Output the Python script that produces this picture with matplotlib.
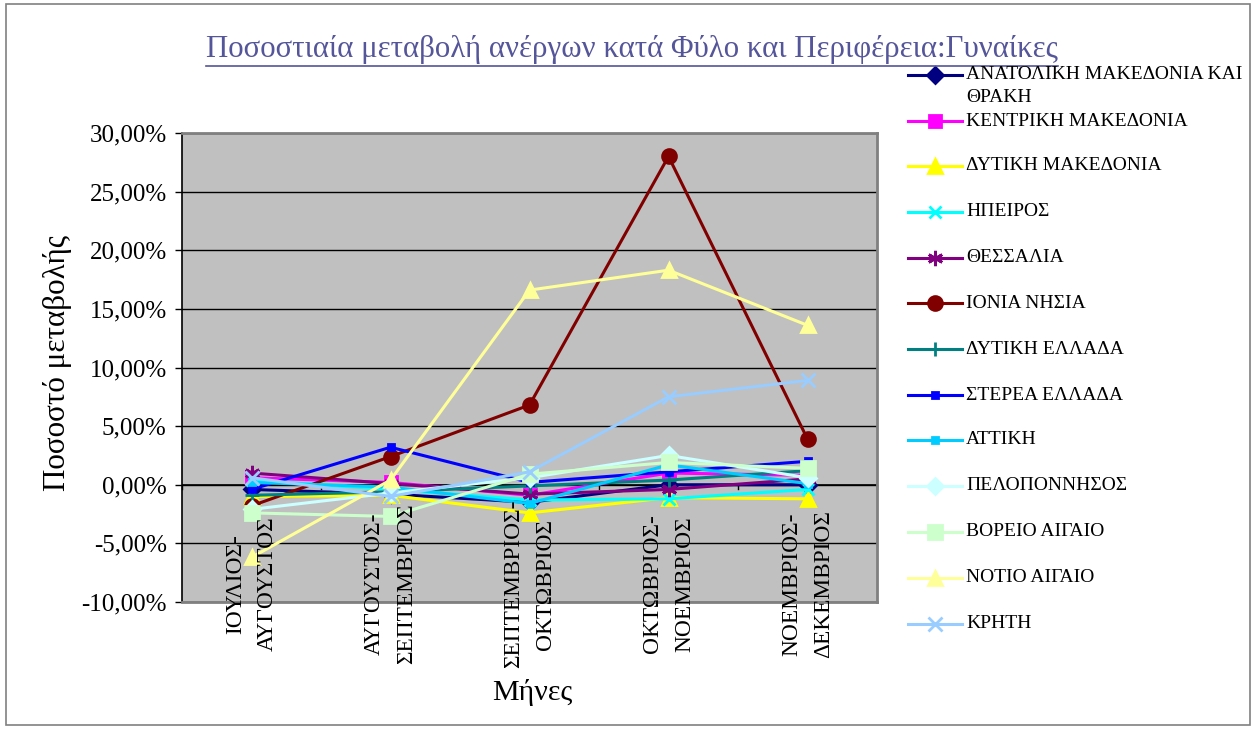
import numpy as np
import matplotlib
matplotlib.use('Agg')
import matplotlib.pyplot as plt
from matplotlib.lines import Line2D
from matplotlib.patches import Rectangle
from matplotlib.ticker import FuncFormatter, MultipleLocator

plt.rcParams['font.family'] = ['Liberation Serif', 'DejaVu Serif']

# περίοδοι (κατηγορίες του άξονα x)
months = ['ΙΟΥΛΙΟΣ-\nΑΥΓΟΥΣΤΟΣ', 'ΑΥΓΟΥΣΤΟΣ-\nΣΕΠΤΕΜΒΡΙΟΣ', 'ΣΕΠΤΕΜΒΡΙΟΣ-\nΟΚΤΩΒΡΙΟΣ',
          'ΟΚΤΩΒΡΙΟΣ-\nΝΟΕΜΒΡΙΟΣ', 'ΝΟΕΜΒΡΙΟΣ-\nΔΕΚΕΜΒΡΙΟΣ']

# ποσοστιαία μεταβολή (%) ανά περιφέρεια
anat_makedonia = [-0.4, -0.8, -1.5, 0.0, 0.0]
kentr_makedonia = [0.6, 0.2, -0.9, 1.0, 0.8]
dyt_makedonia = [-1.0, -0.9, -2.4, -1.1, -1.2]
ipeiros = [0.4, -0.4, -1.3, -1.2, -0.4]
thessalia = [1.0, 0.1, -0.8, -0.4, 0.5]
ionia = [-1.8, 2.4, 6.8, 28.0, 3.9]
dyt_ellada = [-0.9, -0.6, -0.1, 0.4, 1.2]
sterea = [-0.4, 3.2, 0.2, 1.1, 2.0]
attiki = [0.2, -0.2, -1.6, 1.7, 0.1]
peloponnisos = [-2.1, -0.7, 0.6, 2.5, 0.6]
voreio_aigaio = [-2.4, -2.7, 0.9, 1.9, 1.4]
notio_aigaio = [-6.2, 0.4, 16.6, 18.3, 13.6]
kriti = [0.6, -1.0, 1.1, 7.5, 8.9]

series = [
    ('ΑΝΑΤΟΛΙΚΗ ΜΑΚΕΔΟΝΙΑ ΚΑΙ\nΘΡΑΚΗ', anat_makedonia, '#000080', 'D', 8),
    ('ΚΕΝΤΡΙΚΗ ΜΑΚΕΔΟΝΙΑ', kentr_makedonia, '#FF00FF', 's', 8),
    ('ΔΥΤΙΚΗ ΜΑΚΕΔΟΝΙΑ', dyt_makedonia, '#FFFF00', '^', 10),
    ('ΗΠΕΙΡΟΣ', ipeiros, '#00FFFF', 'x', 9),
    ('ΘΕΣΣΑΛΙΑ', thessalia, '#800080', (6, 2, 0), 11),
    ('ΙΟΝΙΑ ΝΗΣΙΑ', ionia, '#800000', 'o', 10),
    ('ΔΥΤΙΚΗ ΕΛΛΑΔΑ', dyt_ellada, '#008080', '+', 10),
    ('ΣΤΕΡΕΑ ΕΛΛΑΔΑ', sterea, '#0000FF', 's', 4),
    ('ΑΤΤΙΚΗ', attiki, '#00CCFF', 's', 5),
    ('ΠΕΛΟΠΟΝΝΗΣΟΣ', peloponnisos, '#CCFFFF', 'D', 8),
    ('ΒΟΡΕΙΟ ΑΙΓΑΙΟ', voreio_aigaio, '#CCFFCC', 's', 10),
    ('ΝΟΤΙΟ ΑΙΓΑΙΟ', notio_aigaio, '#FFFF99', '^', 10),
    ('ΚΡΗΤΗ', kriti, '#99CCFF', 'x', 10),
]

W, H = 1256, 729
fig = plt.figure(figsize=(W / 100, H / 100), dpi=100)
fig.patch.set_facecolor('white')

# περίγραμμα γραφήματος
fig.add_artist(Rectangle((6 / W, 4 / H), 1244 / W, 721 / H, transform=fig.transFigure,
                         fill=False, edgecolor='#808080', linewidth=1.2))

ax = fig.add_axes([182 / W, 1 - 602 / H, 695 / W, 469 / H])
ax.set_facecolor('#C0C0C0')

x = np.arange(len(months))
for name, vals, col, mk, ms in series:
    ax.plot(x, vals, color=col, linewidth=2.2, marker=mk, markersize=ms,
            markerfacecolor=col, markeredgecolor=col, markeredgewidth=2, zorder=3)

ax.set_xlim(-0.5, len(months) - 0.5)
ax.set_ylim(-10, 30)
ax.yaxis.set_major_locator(MultipleLocator(5))
ax.yaxis.set_major_formatter(FuncFormatter(lambda v, p: f'{v:.2f}%'.replace('.', ',')))
ax.grid(axis='y', color='black', linewidth=1.0, zorder=1)
ax.set_axisbelow(True)
ax.tick_params(axis='y', labelsize=18, length=5, width=1, direction='out', pad=6)

# άξονας κατηγοριών στο 0
ax.axhline(0, color='black', linewidth=1.2, zorder=2)
ax.set_xticks([])
for b in np.arange(-0.5, len(months), 1.0):
    ax.plot([b, b], [0, -0.4], color='black', linewidth=1, zorder=2, clip_on=False)

for s in ['top', 'right', 'bottom']:
    ax.spines[s].set_color('#808080')
    ax.spines[s].set_linewidth(2)
ax.spines['left'].set_color('black')
ax.spines['left'].set_linewidth(1.2)

# ετικέτες κατηγοριών (περιστραμμένες, πάνω από την περιοχή σχεδίασης)
for xi, lab in zip(x, months):
    ax.text(xi, (602 - 584) / 469, lab, transform=ax.get_xaxis_transform(),
            rotation=90, ha='center', va='center', multialignment='center',
            fontsize=16.8, linespacing=1.7, zorder=5, clip_on=False)

fig.text(532 / W, 1 - 693 / H, 'Μήνες', ha='center', va='center', fontsize=21.6)
fig.text(58 / W, 1 - 363 / H, 'Ποσοστό μεταβολής', ha='center', va='center',
         rotation=90, fontsize=22.4)

title_color = '#55559A'
title = fig.text(632 / W, 1 - 50 / H,
                 'Ποσοστιαία μεταβολή ανέργων κατά Φύλο και Περιφέρεια:Γυναίκες',
                 ha='center', va='center', fontsize=22.2, color=title_color)

# υπόμνημα
leg_y = [75, 121, 166, 212, 258, 303, 349, 395, 440, 486, 532, 578, 624]
for (name, vals, col, mk, ms), yy in zip(series, leg_y):
    fy = 1 - yy / H
    fig.add_artist(Line2D([908 / W, 962 / W], [fy, fy], transform=fig.transFigure,
                          color=col, linewidth=2.2))
    fig.add_artist(Line2D([935 / W], [fy], transform=fig.transFigure, color=col,
                          linestyle='none', marker=mk, markersize=ms,
                          markerfacecolor=col, markeredgecolor=col, markeredgewidth=2))
    if '\n' in name:
        fig.text(966 / W, 1 - (yy - 9) / H, name, ha='left', va='top',
                 fontsize=14, linespacing=1.45)
    else:
        fig.text(966 / W, fy, name, ha='left', va='center', fontsize=14)

# υπογράμμιση τίτλου
fig.canvas.draw()
bb = title.get_window_extent()
uy = (bb.y0 - 1) / H
fig.add_artist(Line2D([bb.x0 / W, bb.x1 / W], [uy, uy], transform=fig.transFigure,
                      color=title_color, linewidth=1.2))

plt.savefig('out.png', dpi=100)
plt.close()
